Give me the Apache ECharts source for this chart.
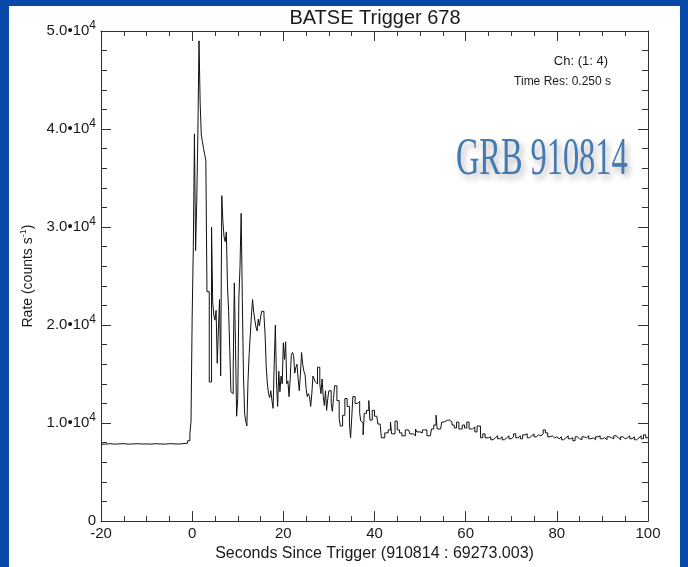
<!DOCTYPE html>
<html>
<head>
<meta charset="utf-8">
<script src="https://cdn.jsdelivr.net/npm/echarts@6/dist/echarts.min.js"></script>
<style>html,body{margin:0;padding:0;background:#fff}#c{width:688px;height:567px}</style>
</head>
<body>
<div id="c"></div>
<script>
// Time bin start (s since trigger) and rate (counts/s)
var times = [
 -20,-19,-18,-17,-16,-15,-14,-13,-12,-11,-10,-9,-8,-7,-6,-5,-4,-3,-2,
 -1,-0.5,-0.25,0,0.25,0.5,0.75,1,1.25,1.5,1.75,2,2.25,2.5,2.75,3,3.25,3.75,4.25,4.5,4.75,
 5,5.25,5.5,5.75,6,6.25,6.5,6.75,7,7.25,7.5,7.75,8,8.25,8.5,8.75,9,9.25,9.5,9.75,
 10,10.25,10.5,10.75,11,11.25,11.5,11.75,12,12.25,12.5,12.75,13,13.25,13.5,13.75,14,14.25,14.5,14.75,
 15,15.25,15.5,15.75,16,16.25,16.5,16.75,17,17.25,17.5,17.75,18,18.25,18.5,18.75,19,19.25,19.5,19.75,
 20,20.25,20.5,20.75,21,21.25,21.5,21.75,22,22.25,22.5,22.75,23,23.25,23.5,23.75,24,24.25,24.5,24.75,
 25,25.25,25.5,25.75,26,26.25,26.5,26.75,27,27.25,27.5,27.75,28,28.25,28.5,28.75,29,29.25,29.5,29.75,
 30,30.25,30.5,30.75,31,31.25,31.5,31.75,32,32.25,32.5,32.75,33,33.5,34,34.5,34.75,
 35,35.25,35.75,36.25,36.5,36.75,37,37.25,37.5,37.75,38.25,38.75,39,39.5,40,40.5,40.75,41.25,41.5,
 42.25,43,43.5,43.75,44.5,45,45.5,46,46.75,47.5,47.75,48.5,49,49.25,50,50.5,51,51.5,52.25,52.5,
 53,53.5,53.75,54.5,54.75,55.25,56,56.5,57,57.5,58,58.5,59.25,59.75,60.25,60.75,61.5,62,62.5,
 63.25,63.75,64.25,65,65.5,66,66.5,67,67.5,68,68.5,69,69.5,70,70.5,71,71.5,72,72.5,73,73.5,74,74.5,
 75,75.5,76,76.5,77,77.5,78,78.5,79,79.5,80,80.5,81,81.5,82,82.5,83,83.5,84,84.5,85,85.5,86,86.5,
 87,87.5,88,88.5,89,89.5,90,90.5,91,91.5,92,92.5,93,93.5,94,94.5,95,95.5,96,96.5,97,97.5,98,98.5,
 99,99.5,100
];
var rates = [
 7850,7900,7850,7880,7900,7850,7870,7900,7860,7880,7850,7900,7870,7850,7900,7880,7860,7900,7950,
 8200,8900,10200,20800,27900,39500,27600,32500,39500,49000,42700,39400,38700,38000,37400,36800,23400,14200,30000,22400,21000,
 20500,21500,16100,19500,22600,14800,33200,30500,29000,28500,29500,24000,21400,17500,13200,13000,15500,24300,18000,10700,
 12500,22800,26000,31400,22800,15000,11000,10200,9700,14300,17000,19000,21000,22600,21300,20500,19800,19400,20600,19900,
 20800,21400,21400,21000,19000,15700,14000,13000,12600,13300,12300,11500,16000,20000,14200,11700,15300,13200,14800,14000,
 18200,16500,18300,14000,14300,12700,14500,16900,17200,16900,15100,15700,16000,14500,13300,15000,17200,16000,15300,15000,
 13500,12700,13000,12700,11700,13000,14800,14500,14200,14000,15700,15700,14000,13000,14500,12700,11800,13300,11300,12500,
 13300,13300,12000,11200,12500,13800,13800,12300,12300,10500,9700,9700,10800,12500,11700,10000,8500,
 10500,12700,12000,12000,12200,11000,10200,10000,8800,11000,11300,12300,10300,11300,10700,10700,9900,9900,8500,
 9000,9300,10100,8900,10200,9300,9000,8700,9300,9400,8900,8700,9400,9100,9000,9300,9300,8700,8900,9400,
 9800,10800,9400,9400,10100,10300,10300,10100,9800,9500,10100,9400,9800,9500,10100,9400,9600,9100,9700,
 8500,8900,8500,8600,8300,8500,8700,8400,8600,8300,8500,8700,8400,8600,8900,8500,8700,8400,8800,8900,8500,8700,8900,
 8600,8800,8700,8900,9300,9000,8600,8700,8500,8600,8400,8600,8300,8500,8700,8400,8500,8200,8600,8400,8300,8600,8500,8700,
 8400,8500,8300,8600,8700,8400,8500,8300,8600,8500,8400,8700,8500,8300,8600,8400,8500,8700,8400,8600,8300,8500,8700,8400,
 8800,8500,8500
];
var xTicks = [-20, 0, 20, 40, 60, 80, 100];
var yTickExp = 4;

var data = times.map(function (t, i) { return [t, rates[i]]; });

var chart = echarts.init(document.getElementById('c'), null, {renderer: 'canvas'});
var F = '"Liberation Sans", Arial, sans-serif';
var axisCol = '#333';
var txt = '#1a1a1a';
function yFmt(v) {
  if (v === 0) return '{m|0}';
  return '{m|' + (v / 1e4).toFixed(1) + '\u202210}{s|' + yTickExp + '}';
}
var baseX = {
  type: 'value', min: -20, max: 100, interval: 20,
  axisLine: {show: true, onZero: false, lineStyle: {color: axisCol, width: 1}},
  axisTick: {show: true, inside: true, length: 10, lineStyle: {color: axisCol}},
  minorTick: {show: true, splitNumber: 4, length: 5, lineStyle: {color: axisCol}},
  splitLine: {show: false}, minorSplitLine: {show: false}
};
var baseY = {
  type: 'value', min: 0, max: 50000, interval: 10000,
  axisLine: {show: true, onZero: false, lineStyle: {color: axisCol, width: 1}},
  axisTick: {show: true, inside: true, length: 10, lineStyle: {color: axisCol}},
  minorTick: {show: true, splitNumber: 5, length: 6, lineStyle: {color: axisCol}},
  splitLine: {show: false}, minorSplitLine: {show: false}
};
var option = {
  animation: false,
  backgroundColor: '#ffffff',
  grid: {left: 101, right: 40, top: 31, bottom: 36, containLabel: false},
  xAxis: [
    Object.assign({}, baseX, {
      position: 'bottom',
      axisLabel: {show: true, margin: 5, fontFamily: F, fontSize: 15, color: txt},
      name: 'Seconds Since Trigger (910814 : 69273.003)',
      nameLocation: 'middle', nameGap: 20,
      nameTextStyle: {fontFamily: F, fontSize: 16, color: txt}
    }),
    Object.assign({}, baseX, {position: 'top', axisLabel: {show: false}})
  ],
  yAxis: [
    Object.assign({}, baseY, {
      position: 'left',
      axisLabel: {show: true, margin: 5, formatter: yFmt,
        rich: {m: {fontFamily: F, fontSize: 15, color: txt},
               s: {fontFamily: F, fontSize: 12, color: txt, padding: [0, 0, 10, 0]}}},
      name: 'Rate (counts s{s|-1})',
      nameLocation: 'middle', nameGap: 64, nameRotate: 90,
      nameTextStyle: {fontFamily: F, fontSize: 14, color: txt,
        rich: {s: {fontFamily: F, fontSize: 9, color: txt, padding: [0, 0, 9, 0]}}}
    }),
    Object.assign({}, baseY, {position: 'right', axisLabel: {show: false}})
  ],
  series: [{
    type: 'line', step: 'end', showSymbol: false, symbol: 'none',
    xAxisIndex: 0, yAxisIndex: 0,
    data: data,
    lineStyle: {color: '#111', width: 1},
    silent: true
  }],
  graphic: [
    {type: 'rect', left: 0, top: 0, shape: {width: 9, height: 567}, style: {fill: '#0848a8'}},
    {type: 'rect', left: 0, top: 0, shape: {width: 688, height: 6}, style: {fill: '#0848a8'}},
    {type: 'rect', left: 680, top: 0, shape: {width: 8, height: 567}, style: {fill: '#0848a8'}},
    {type: 'text', x: 375, y: 18, style: {text: 'BATSE Trigger 678', font: '20px ' + F,
      fill: txt, align: 'center', verticalAlign: 'middle', textAlign: 'center', textVerticalAlign: 'middle'}},
    {type: 'text', x: 608, y: 61, style: {text: 'Ch: (1: 4)', font: '13px ' + F,
      fill: txt, align: 'right', verticalAlign: 'middle', textAlign: 'right', textVerticalAlign: 'middle'}},
    {type: 'text', x: 611, y: 82, style: {text: 'Time Res: 0.250 s', font: '12px ' + F,
      fill: txt, align: 'right', verticalAlign: 'middle', textAlign: 'right', textVerticalAlign: 'middle'}},
    {type: 'text', x: 456, y: 160, scaleX: 0.61, z: 10,
      style: {text: 'GRB 910814', font: '53px "Liberation Serif", "Times New Roman", serif',
        fill: '#4679b0', align: 'left', verticalAlign: 'middle', textAlign: 'left', textVerticalAlign: 'middle',
        textShadowColor: 'rgba(0,0,0,0.3)', textShadowBlur: 6, textShadowOffsetX: 3, textShadowOffsetY: 4}}
  ]
};
chart.setOption(option);
</script>
</body>
</html>
